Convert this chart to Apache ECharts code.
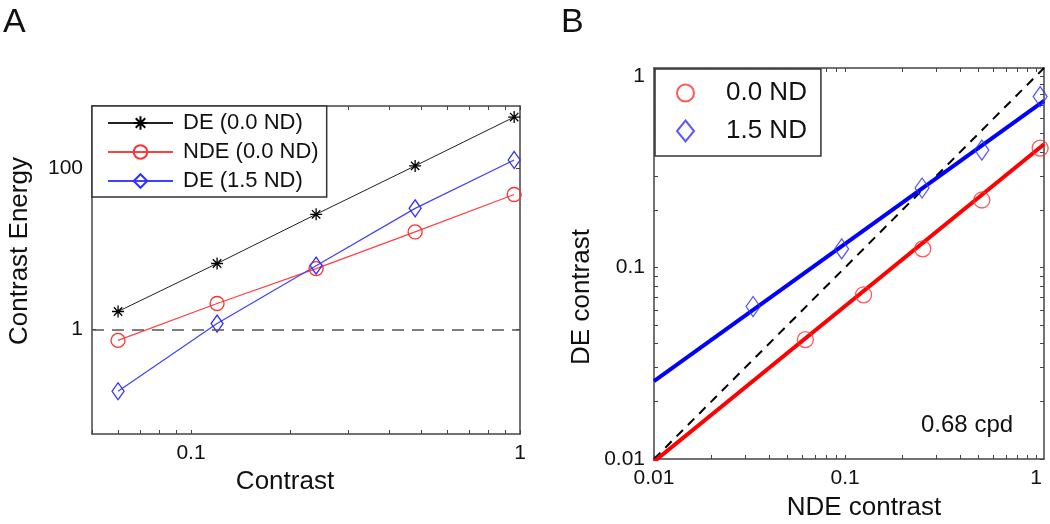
<!DOCTYPE html>
<html><head><meta charset="utf-8">
<script src="https://cdn.jsdelivr.net/npm/echarts@6/dist/echarts.min.js"></script>
<style>html,body{margin:0;padding:0;background:#fff}#c{width:1050px;height:524px}</style>
</head><body><div id="c"></div>
<script>
// ---------- Panel A data ----------
const contrastA   = [0.06, 0.12, 0.24, 0.48, 0.96];
const energyDE00  = [1.67, 6.6, 27, 108, 437];
const energyNDE00 = [0.73, 2.1, 5.7, 16.3, 47.6];
const energyDE15  = [0.17, 1.18, 6.2, 32, 128];
const refEnergy   = 1;
const namesA = ['DE (0.0 ND)', 'NDE (0.0 ND)', 'DE (1.5 ND)'];

// ---------- Panel B data ----------
const ndeContrast00 = [0.062, 0.125, 0.255, 0.52, 1.05];
const deContrast00  = [0.042, 0.072, 0.125, 0.225, 0.42];
const ndeContrast15 = [0.033, 0.096, 0.253, 0.52, 1.05];
const deContrast15  = [0.0625, 0.125, 0.26, 0.41, 0.78];
const fitLine00 = [[0.01, 0.0097], [1.1, 0.44]];
const fitLine15 = [[0.01, 0.0255], [1.1, 0.74]];
const unityLine = [[0.01, 0.01], [1.1, 1.1]];
const namesB = ['0.0 ND', '1.5 ND'];

// ---------- ticks ----------
const xTicksA  = [0.05,0.06,0.07,0.08,0.09,0.1,0.2,0.3,0.4,0.5,0.6,0.7,0.8,0.9,1];
const xLabelsA = [0.1, 1];
const yTicksA  = [1, 100];
const yLabelsA = [1, 100];
const ticksB   = [0.01,0.02,0.03,0.04,0.05,0.06,0.07,0.08,0.09,0.1,0.2,0.3,0.4,0.5,0.6,0.7,0.8,0.9,1];
const labelsB  = [0.01, 0.1, 1];

const FONT = 'Liberation Sans, Arial, Helvetica, sans-serif';
const AXC = '#444';
const zip = (xs, ys) => xs.map((x, i) => [x, ys[i]]);

function logAxis(grid, pos, min, max, ticks, labels, showLabel) {
  return {
    type: 'log', logBase: 10, gridIndex: grid, position: pos, min: min, max: max,
    axisLine: { show: true, onZero: false, lineStyle: { color: AXC, width: 1.5 } },
    axisTick: { show: true, inside: true, length: 4, customValues: ticks, lineStyle: { color: AXC, width: 1 } },
    axisLabel: { show: showLabel, customValues: labels, fontSize: 21, fontFamily: FONT, color: '#111', margin: 9,
                 formatter: v => String(+v.toPrecision(3)) },
    splitLine: { show: false }, minorTick: { show: false }, minorSplitLine: { show: false }
  };
}

const asterisk = 'path://M0,5L10,5M5,0L5,10M1.5,1.5L8.5,8.5M8.5,1.5L1.5,8.5';

const option = {
  animation: false,
  backgroundColor: '#fff',
  grid: [
    { left: 92, top: 106, width: 428, height: 328 },
    { left: 654, top: 68, width: 390, height: 391 }
  ],
  xAxis: [
    logAxis(0, 'bottom', 0.05, 1, xTicksA, xLabelsA, true),
    logAxis(0, 'top', 0.05, 1, xTicksA, xLabelsA, false),
    logAxis(1, 'bottom', 0.01, 1.1, ticksB, labelsB, true),
    logAxis(1, 'top', 0.01, 1.1, ticksB, labelsB, false)
  ],
  yAxis: [
    logAxis(0, 'left', 0.05, 600, yTicksA, yLabelsA, true),
    logAxis(0, 'right', 0.05, 600, yTicksA, yLabelsA, false),
    logAxis(1, 'left', 0.01, 1.1, ticksB, labelsB, true),
    logAxis(1, 'right', 0.01, 1.1, ticksB, labelsB, false)
  ],
  legend: [
    {
      data: namesA, orient: 'vertical', left: 92, top: 106,
      itemWidth: 65, itemHeight: 17, itemGap: 5,
      padding: [5, 8, 4, 15],
      borderColor: '#333', borderWidth: 1.5, backgroundColor: '#fff',
      textStyle: { fontSize: 22, fontFamily: FONT, color: '#111', padding: [0, 0, 0, 5], lineHeight: 24 }
    },
    {
      data: namesB, orient: 'vertical', left: 655, top: 69,
      itemWidth: 17, itemHeight: 21, itemGap: 8,
      padding: [9, 14, 10, 21],
      borderColor: '#333', borderWidth: 1.5, backgroundColor: '#fff',
      textStyle: { fontSize: 26, fontFamily: FONT, color: '#111', padding: [0, 0, 0, 27], lineHeight: 30 }
    }
  ],
  series: [
    { type: 'line', xAxisIndex: 0, yAxisIndex: 0, silent: true, symbol: 'none', data: [],
      markLine: { silent: true, symbol: 'none', label: { show: false },
        lineStyle: { color: '#555', type: [12, 8], width: 1.5 }, data: [{ yAxis: refEnergy }] } },
    { name: namesA[0], type: 'line', xAxisIndex: 0, yAxisIndex: 0, data: zip(contrastA, energyDE00),
      symbol: asterisk, symbolSize: 12,
      lineStyle: { color: '#222', width: 1 },
      itemStyle: { color: 'transparent', borderColor: '#000', borderWidth: 1.3 } },
    { name: namesA[1], type: 'line', xAxisIndex: 0, yAxisIndex: 0, data: zip(contrastA, energyNDE00),
      symbol: 'circle', symbolSize: 14,
      lineStyle: { color: '#ff4040', width: 1.2 },
      itemStyle: { color: 'transparent', borderColor: '#ff3030', borderWidth: 1.3 } },
    { name: namesA[2], type: 'line', xAxisIndex: 0, yAxisIndex: 0, data: zip(contrastA, energyDE15),
      symbol: 'diamond', symbolSize: [12, 17],
      lineStyle: { color: '#4040ff', width: 1.2 },
      itemStyle: { color: 'transparent', borderColor: '#3030ff', borderWidth: 1.3 } },

    { type: 'line', xAxisIndex: 2, yAxisIndex: 2, data: unityLine, symbol: 'none', silent: true,
      lineStyle: { color: '#000', width: 2, type: [9, 7] } },
    { type: 'line', xAxisIndex: 2, yAxisIndex: 2, data: fitLine15, symbol: 'none', silent: true,
      lineStyle: { color: '#0000ff', width: 4 } },
    { type: 'line', xAxisIndex: 2, yAxisIndex: 2, data: fitLine00, symbol: 'none', silent: true,
      lineStyle: { color: '#ff0000', width: 4 } },
    { name: namesB[0], type: 'scatter', xAxisIndex: 2, yAxisIndex: 2, data: zip(ndeContrast00, deContrast00),
      symbol: 'circle', symbolSize: 16, z: 5,
      itemStyle: { color: 'transparent', borderColor: '#ff3030', borderWidth: 1.3 } },
    { name: namesB[1], type: 'scatter', xAxisIndex: 2, yAxisIndex: 2, data: zip(ndeContrast15, deContrast15),
      symbol: 'diamond', symbolSize: [14, 20], z: 5,
      itemStyle: { color: 'transparent', borderColor: '#3030ff', borderWidth: 1.3 } }
  ],
  graphic: [
    { type: 'text', left: 3, top: 6, style: { text: 'A', font: '34px ' + FONT, fill: '#111' } },
    { type: 'text', left: 561, top: 6, style: { text: 'B', font: '34px ' + FONT, fill: '#111' } },
    { type: 'text', x: 20, y: 251, rotation: Math.PI / 2,
      style: { text: 'Contrast Energy', font: '26px ' + FONT, fill: '#111', textAlign: 'center', textVerticalAlign: 'middle' } },
    { type: 'text', x: 285, y: 482,
      style: { text: 'Contrast', font: '26px ' + FONT, fill: '#111', textAlign: 'center', textVerticalAlign: 'middle' } },
    { type: 'text', x: 582, y: 297, rotation: Math.PI / 2,
      style: { text: 'DE contrast', font: '26px ' + FONT, fill: '#111', textAlign: 'center', textVerticalAlign: 'middle' } },
    { type: 'text', x: 864, y: 508,
      style: { text: 'NDE contrast', font: '26px ' + FONT, fill: '#111', textAlign: 'center', textVerticalAlign: 'middle' } },
    { type: 'text', x: 921, y: 425,
      style: { text: '0.68 cpd', font: '24px ' + FONT, fill: '#111', textAlign: 'left', textVerticalAlign: 'middle' } }
  ]
};
const chart = echarts.init(document.getElementById('c'), null, { renderer: 'canvas' });
chart.setOption(option);
</script>
</body></html>
